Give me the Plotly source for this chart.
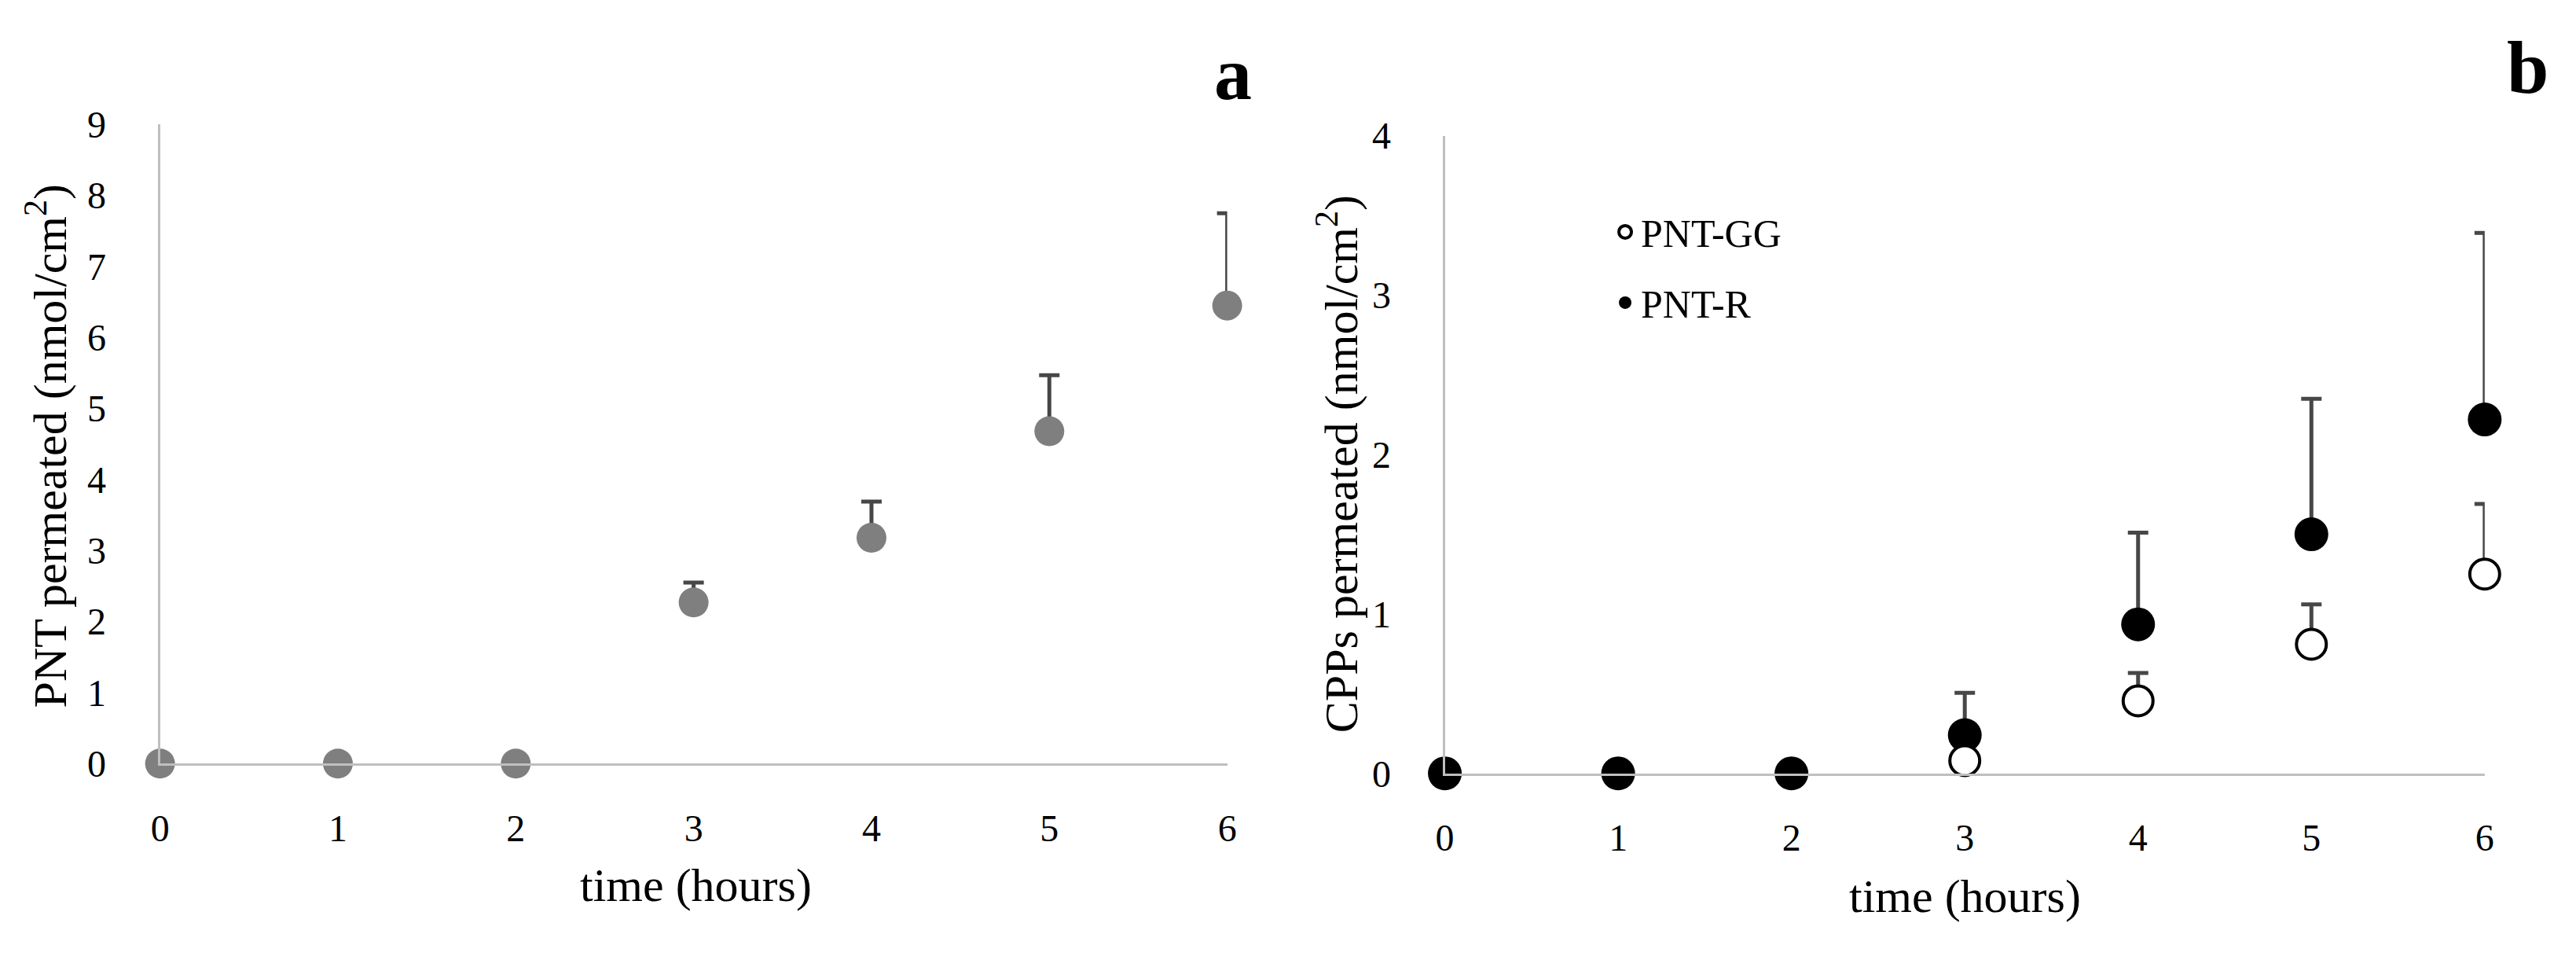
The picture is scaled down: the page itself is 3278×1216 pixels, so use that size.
import plotly.graph_objects as go

W, H = 3278, 1216

# ---- data ----
time_h = [0, 1, 2, 3, 4, 5, 6]
pnt_mean = [0, 0, 0, 2.27, 3.18, 4.68, 6.45]
pnt_err = [0, 0, 0, 0.28, 0.51, 0.79, 1.30]

pnt_r_mean = [0, 0, 0, 0.24, 0.935, 1.50, 2.22]
pnt_r_err = [0, 0, 0, 0.265, 0.575, 0.85, 1.17]

pnt_gg_mean = [None, None, None, 0.08, 0.455, 0.81, 1.25]
pnt_gg_err = [0, 0, 0, 0.04, 0.175, 0.25, 0.44]

x_ticks = [0, 1, 2, 3, 4, 5, 6]
ya_ticks = [0, 1, 2, 3, 4, 5, 6, 7, 8, 9]
yb_ticks = [0, 1, 2, 3, 4]

FONT = "Liberation Serif"
AXC = "#bfbfbf"
ERRC = "#474747"


def px_x(p):
    return p / W


def px_y(p):
    return 1 - p / H


fig = go.Figure()

# panel a
fig.add_trace(go.Scatter(
    x=time_h, y=pnt_mean, mode="markers", xaxis="x", yaxis="y",
    marker=dict(size=38, color="#7f7f7f"),
    error_y=dict(type="data", symmetric=False, array=pnt_err,
                 arrayminus=[0] * len(pnt_err), color=ERRC,
                 thickness=5, width=13),
    cliponaxis=False, showlegend=False,
))

# panel b
fig.add_trace(go.Scatter(
    x=time_h, y=pnt_r_mean, mode="markers", xaxis="x2", yaxis="y2",
    name="PNT-R", legendrank=2, legendgroup="r",
    marker=dict(size=43, color="black"),
    error_y=dict(type="data", symmetric=False, array=pnt_r_err,
                 arrayminus=[0] * len(pnt_r_err), color=ERRC,
                 thickness=5, width=13),
    cliponaxis=False,
))
fig.add_trace(go.Scatter(
    x=time_h, y=pnt_gg_mean, mode="markers", xaxis="x2", yaxis="y2",
    name="PNT-GG", legendrank=1, legendgroup="gg",
    marker=dict(size=38, color="white", line=dict(color="black", width=4)),
    error_y=dict(type="data", symmetric=False, array=pnt_gg_err,
                 arrayminus=[0] * len(pnt_gg_err), color=ERRC,
                 thickness=5, width=13),
    cliponaxis=False,
))

common_x = dict(range=[0, 6], tickvals=x_ticks, showgrid=False, zeroline=False,
                showline=True, linecolor=AXC, linewidth=3, ticks="",
                ticklabelstandoff=38,
                tickfont=dict(family=FONT, size=48, color="black"))
common_y = dict(showgrid=False, zeroline=False, showline=True, linecolor=AXC,
                linewidth=3, ticks="", ticklabelstandoff=56,
                tickfont=dict(family=FONT, size=48, color="black"))

fig.update_layout(
    width=W, height=H,
    margin=dict(l=0, r=0, t=0, b=0),
    paper_bgcolor="white", plot_bgcolor="white",
    xaxis=dict(domain=[px_x(185), px_x(1553)], anchor="y", **common_x),
    yaxis=dict(domain=[px_y(980), px_y(130)], anchor="x", range=[0, 9],
               tickvals=ya_ticks, **common_y),
    xaxis2=dict(domain=[px_x(1832), px_x(3165)], anchor="y2", **common_x),
    yaxis2=dict(domain=[px_y(993), px_y(145)], anchor="x2", range=[0, 4],
                tickvals=yb_ticks, **common_y),
    legend=dict(x=px_x(2043), y=px_y(232), xanchor="left", yanchor="top",
                font=dict(family=FONT, size=50, color="black"),
                bgcolor="rgba(0,0,0,0)", tracegroupgap=22,
                itemsizing="trace"),
    showlegend=True,
)

title_font = dict(family=FONT, size=60, color="black")
annots = [
    dict(text="time (hours)", x=px_x(872), y=px_y(1142)),
    dict(text="time (hours)", x=px_x(2499), y=px_y(1156)),
    dict(text="PNT permeated (nmol/cm<sup>2</sup>)", x=px_x(40), y=px_y(558),
         textangle=-90),
    dict(text="CPPs permeated (nmol/cm<sup>2</sup>)", x=px_x(1695), y=px_y(582),
         textangle=-90),
]
for a in annots:
    fig.add_annotation(xref="paper", yref="paper", showarrow=False,
                       xanchor="center", yanchor="middle", font=title_font, **a)

for lab, xp, yp in (("a", 1560, 62), ("b", 3220, 54)):
    fig.add_annotation(text="<b>%s</b>" % lab, xref="paper", yref="paper",
                       x=px_x(xp), y=px_y(yp), showarrow=False,
                       xanchor="center", yanchor="middle",
                       font=dict(family=FONT, size=96, color="black"))

fig.write_html("out.html")
